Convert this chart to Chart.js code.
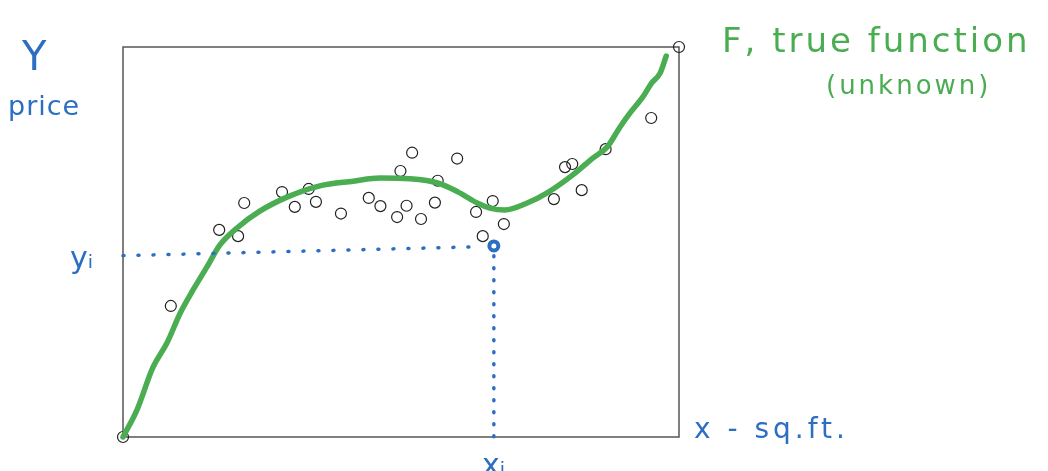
<!DOCTYPE html>
<html>
<head>
<meta charset="utf-8">
<script src="https://cdn.jsdelivr.net/npm/chart.js@4"></script>
<style>
  html, body { margin: 0; padding: 0; background: #fff; }
  #wrap { width: 1048px; height: 471px; }
</style>
</head>
<body>
<div id="wrap"><canvas id="sketch"></canvas></div>
<script>
// observed houses: square feet (x) vs price (y), both on a 0-100 scale
const obsX = [0, 100, 8.6, 17.3, 20.7, 21.8, 28.6, 30.9, 33.4, 34.7, 39.2, 44.2, 46.3, 49.9, 49.3,
  51.0, 52.0, 53.6, 56.1, 56.6, 60.1, 63.5, 64.7, 66.5, 68.5, 77.5, 79.5, 80.8, 82.5, 86.8, 95.0];
const obsY = [0, 100, 33.6, 53.1, 51.5, 60.0, 62.8, 59.0, 63.6, 60.3, 57.3, 61.3, 59.2, 68.2, 56.4,
  59.3, 72.9, 55.9, 60.1, 65.7, 71.4, 57.7, 51.5, 60.5, 54.6, 61.0, 69.2, 70.0, 63.3, 73.8, 81.8];

// the "true function" f, traced along the green stroke
const fX = [0, 2.5, 5.4, 7.9, 10.3, 12.6, 15.1, 17.4, 20.5, 24.6, 29.5, 35.4, 41.4, 46.2, 51.6,
  56.7, 60.3, 63.7, 66.0, 68.7, 72.7, 76.3, 80.9, 84.5, 87.1, 89.4, 91.2, 93.5, 95.1, 96.6, 97.7];
const fY = [0, 6.9, 17.9, 24.1, 31.8, 37.7, 43.6, 49.2, 53.6, 57.9, 61.5, 64.4, 65.6, 66.4, 66.2,
  65.1, 62.8, 60.0, 58.7, 58.2, 60.0, 62.6, 67.2, 71.5, 74.4, 79.5, 83.1, 87.2, 90.8, 93.3, 97.7];

// highlighted observation (x_i, y_i) and its guide lines
const pickX = 66.7;
const pickY = 49.0;
const guideHX = [0, 64.5];
const guideHY = [46.5, 48.8];
const guideVX = [66.7, 66.7];
const guideVY = [46.5, 0];

const blue = '#2c6ec2';
const green = '#4aad52';

const toPts = (xs, ys) => xs.map((x, i) => ({ x: x, y: ys[i] }));

function note(ctx, text, x, y, font, spacing) {
  ctx.font = font;
  ctx.letterSpacing = spacing || '0px';
  ctx.fillText(text, x, y);
}

const sketchNotes = {
  id: 'sketchNotes',
  beforeDatasetsDraw(chart) {
    const { ctx, chartArea: a } = chart;
    ctx.save();
    ctx.strokeStyle = '#555';
    ctx.lineWidth = 1.5;
    ctx.strokeRect(a.left, a.top, a.right - a.left, a.bottom - a.top);
    ctx.restore();
  },
  afterDraw(chart) {
    const ctx = chart.ctx;
    ctx.save();
    ctx.textBaseline = 'alphabetic';
    ctx.fillStyle = blue;
    note(ctx, 'Y', 22, 70, '40px "DejaVu Sans"');
    note(ctx, 'price', 8, 115, '27px "DejaVu Sans"', '1px');
    note(ctx, 'yᵢ', 70, 268, '30px "DejaVu Sans"');
    note(ctx, 'xᵢ', 482, 475, '30px "DejaVu Sans"');
    note(ctx, 'x - sq.ft.', 694, 438, '28px "DejaVu Sans"', '4px');
    ctx.fillStyle = green;
    note(ctx, 'F, true function', 722, 52, '34px "DejaVu Sans"', '3px');
    note(ctx, '(unknown)', 826, 94, '26px "DejaVu Sans"', '3px');
    ctx.restore();
  }
};

new Chart(document.getElementById('sketch'), {
  type: 'scatter',
  data: {
    datasets: [
      {
        label: 'guide y',
        data: toPts(guideHX, guideHY),
        showLine: true,
        borderColor: blue,
        borderWidth: 3.5,
        borderDash: [1, 14],
        borderCapStyle: 'round',
        pointRadius: 0
      },
      {
        label: 'guide x',
        data: toPts(guideVX, guideVY),
        showLine: true,
        borderColor: blue,
        borderWidth: 3.5,
        borderDash: [1, 11],
        borderCapStyle: 'round',
        pointRadius: 0
      },
      {
        label: 'f',
        data: toPts(fX, fY),
        showLine: true,
        borderColor: green,
        borderWidth: 5.5,
        borderCapStyle: 'round',
        borderJoinStyle: 'round',
        cubicInterpolationMode: 'monotone',
        pointRadius: 0
      },
      {
        label: 'observed',
        data: toPts(obsX, obsY),
        pointRadius: 5.5,
        pointBorderWidth: 1.2,
        pointBorderColor: '#222',
        pointBackgroundColor: 'rgba(255,255,255,0)'
      },
      {
        label: 'pick',
        data: [{ x: pickX, y: pickY }],
        pointRadius: 4.5,
        pointBorderWidth: 4,
        pointBorderColor: blue,
        pointBackgroundColor: '#fff'
      }
    ]
  },
  options: {
    responsive: true,
    maintainAspectRatio: false,
    animation: false,
    clip: false,
    layout: { padding: { left: 123, right: 369, top: 47, bottom: 34 } },
    scales: {
      x: { type: 'linear', min: 0, max: 100, display: false },
      y: { type: 'linear', min: 0, max: 100, display: false }
    },
    plugins: {
      legend: { display: false },
      tooltip: { enabled: false }
    }
  },
  plugins: [sketchNotes]
});
</script>
</body>
</html>
